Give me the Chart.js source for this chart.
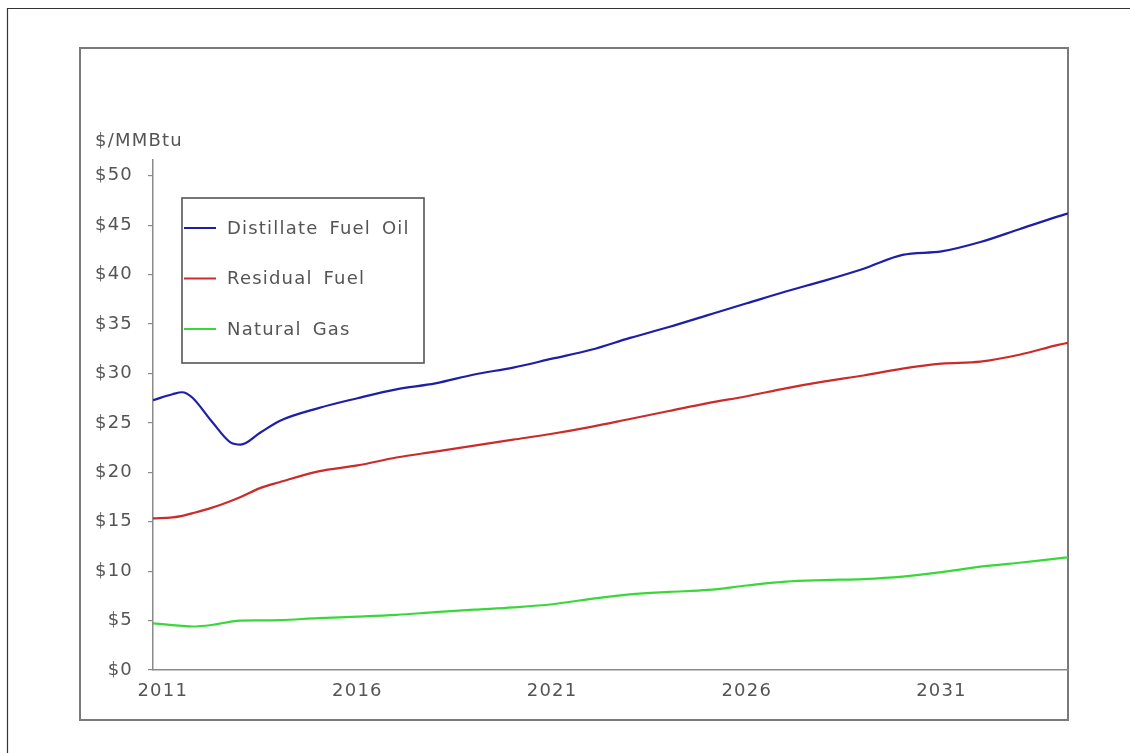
<!DOCTYPE html>
<html><head><meta charset="utf-8">
<script src="https://cdn.jsdelivr.net/npm/chart.js@4"></script>
<style>html,body{margin:0;padding:0;background:#fff}#wrap{width:1130px;height:753px;position:relative}</style>
</head><body><div id="wrap"><canvas id="c"></canvas></div>
<script>
const years = [2010.75, 2011.25, 2011.5, 2011.75, 2012.25, 2012.75, 2013, 2013.5, 2014, 2015, 2016, 2017, 2018, 2019, 2020, 2021, 2022, 2023, 2024, 2025, 2026, 2027, 2028, 2029, 2030, 2031, 2032, 2033, 2034, 2034.25];
const distillate = [27.3, 27.9, 28.1, 27.6, 25.2, 23.0, 22.8, 24.0, 25.2, 26.5, 27.5, 28.4, 29.0, 29.9, 30.6, 31.5, 32.4, 33.6, 34.7, 35.9, 37.1, 38.3, 39.4, 40.6, 42.0, 42.35, 43.3, 44.6, 45.9, 46.2];
const residual = [15.35, 15.45, 15.6, 15.85, 16.4, 17.1, 17.5, 18.4, 19.0, 20.1, 20.7, 21.5, 22.1, 22.7, 23.3, 23.9, 24.6, 25.4, 26.2, 27.0, 27.7, 28.5, 29.2, 29.8, 30.5, 31.0, 31.2, 31.9, 32.9, 33.1];
const naturalGas = [4.72, 4.55, 4.47, 4.40, 4.55, 4.9, 5.0, 5.02, 5.05, 5.25, 5.4, 5.58, 5.85, 6.1, 6.33, 6.65, 7.2, 7.65, 7.9, 8.1, 8.55, 8.95, 9.1, 9.2, 9.45, 9.9, 10.45, 10.85, 11.3, 11.4];
const seriesNames = ['Distillate Fuel Oil', 'Residual Fuel', 'Natural Gas'];
const seriesColors = ['#1e1ea8', '#cc2b2b', '#38d838'];
const yTicks = [0, 5, 10, 15, 20, 25, 30, 35, 40, 45, 50];
const xTicks = [2011, 2016, 2021, 2026, 2031];
const yUnit = '$/MMBtu';

const FONT = '"DejaVu Sans", sans-serif';
const FSIZE = 18;
const TXT = '#555';

const pts = arr => arr.map((v, i) => ({x: years[i], y: v}));

const framePlugin = {
  id: 'frame',
  beforeDraw(chart) {
    const ctx = chart.ctx;
    ctx.letterSpacing = '1.2px';
    ctx.save();
    ctx.strokeStyle = '#333'; ctx.lineWidth = 1.2;
    ctx.beginPath(); ctx.moveTo(7.5, 753); ctx.lineTo(7.5, 8.5); ctx.lineTo(1130, 8.5); ctx.stroke();
    ctx.strokeStyle = '#7a7a7a'; ctx.lineWidth = 2;
    ctx.strokeRect(80, 48, chart.chartArea.right - 80, 672);
    ctx.fillStyle = TXT; ctx.font = FSIZE + 'px ' + FONT;
    ctx.textAlign = 'left'; ctx.textBaseline = 'middle';
    ctx.fillText(yUnit, 95, 141);
    ctx.restore();
  },
  afterDatasetsDraw(chart) {
    const ctx = chart.ctx;
    ctx.save();
    ctx.fillStyle = '#fff';
    ctx.fillRect(182, 198, 242, 165);
    ctx.strokeStyle = '#555'; ctx.lineWidth = 1.6;
    ctx.strokeRect(182, 198, 242, 165);
    ctx.font = FSIZE + 'px ' + FONT; ctx.textBaseline = 'middle'; ctx.textAlign = 'left';
    ctx.wordSpacing = '4px';
    chart.data.datasets.forEach((ds, i) => {
      const y = 228 + i * 50.5;
      ctx.strokeStyle = ds.borderColor; ctx.lineWidth = 2;
      ctx.beginPath(); ctx.moveTo(184, y); ctx.lineTo(216, y); ctx.stroke();
      ctx.fillStyle = TXT;
      ctx.fillText(ds.label, 227, y + 1);
    });
    ctx.restore();
  }
};

new Chart(document.getElementById('c'), {
  type: 'line',
  data: {
    datasets: [
      {label: seriesNames[0], data: pts(distillate), borderColor: seriesColors[0]},
      {label: seriesNames[1], data: pts(residual), borderColor: seriesColors[1]},
      {label: seriesNames[2], data: pts(naturalGas), borderColor: seriesColors[2]}
    ]
  },
  options: {
    responsive: true, maintainAspectRatio: false, animation: false,
    layout: {padding: {left: 80, right: 62, top: 160, bottom: 33}},
    elements: {
      line: {borderWidth: 2.2, cubicInterpolationMode: 'monotone', fill: false},
      point: {radius: 0, hoverRadius: 0}
    },
    plugins: {legend: {display: false}, tooltip: {enabled: false}, title: {display: false}},
    scales: {
      x: {
        type: 'linear', min: 2010.75, max: 2034.25,
        afterBuildTicks: s => { s.ticks = xTicks.map(v => ({value: v})); },
        afterFit: s => { s.height = 50; },
        grid: {display: true, drawOnChartArea: false, drawTicks: false},
        border: {display: true, color: '#8a8a8a', width: 1.5},
        ticks: {color: TXT, font: {family: FONT, size: FSIZE}, padding: 11, maxRotation: 0, autoSkip: false,
          callback: v => String(v)}
      },
      y: {
        type: 'linear', min: 0, max: 51.6,
        afterBuildTicks: s => { s.ticks = yTicks.map(v => ({value: v})); },
        afterFit: s => { s.width = 73; },
        grid: {display: true, drawOnChartArea: false, drawTicks: true, tickLength: 5, color: '#8a8a8a', lineWidth: 1.2},
        border: {display: true, color: '#8a8a8a', width: 1.5},
        ticks: {color: TXT, font: {family: FONT, size: FSIZE}, padding: 15, autoSkip: false,
          callback: v => '$' + v}
      }
    }
  },
  plugins: [framePlugin]
});
</script></body></html>
